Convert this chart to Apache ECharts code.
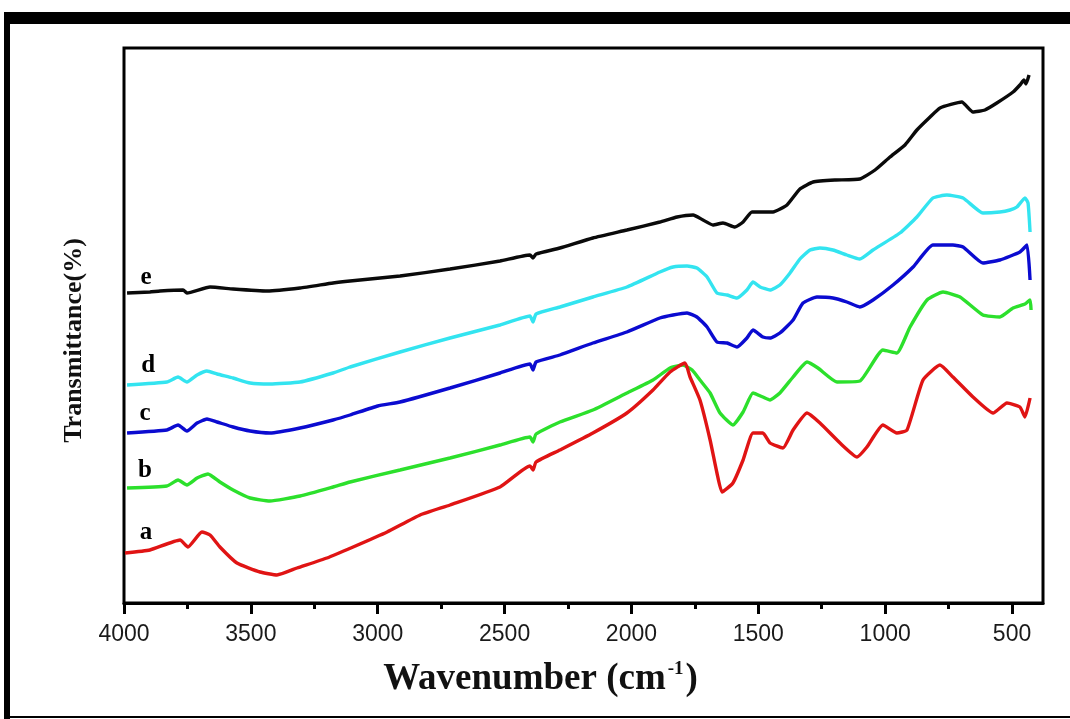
<!DOCTYPE html>
<html>
<head>
<meta charset="utf-8">
<script src="https://cdn.jsdelivr.net/npm/echarts@6/dist/echarts.min.js"></script>
<style>html,body{margin:0;padding:0;background:#fff;}#chart{width:1070px;height:719px;}</style>
</head>
<body>
<div id="chart"></div>
<script>
// ---- tick labels ----
const majorTicks = [4000, 3500, 3000, 2500, 2000, 1500, 1000, 500];
const minorTicks = [3750, 3250, 2750, 2250, 1750, 1250, 750];

// ---- curve labels ----
const curveNames = ['e', 'd', 'c', 'b', 'a'];
const labelW = [3913, 3905, 3917, 3917, 3913];
const labelT = [325, 237, 189, 132, 70];

// ---- series e (black) ----
const eW = [3988,3898,3858,3767,3752,3661,3570,3436,3306,3176,3109,2912,2715,2518,2400,2388,2376,2282,2152,2018,1888,1820,1757,1718,1679,1639,1592,1560,1525,1482,1442,1387,1336,1284,1198,1100,1040,981,922,875,823,784,698,654,607,560,496,469,453,445,433];
const eT = [310,311,312,313,310,316,314,312,315,320,322,327,334,342,348,345,349,355,365,373,381,386,388,383,378,380,376,381,391,391,391,398,414,421,423,424,433,446,458,473,486,495,501,491,493,500,511,518,523,519,528];

// ---- series d (cyan) ----
const dW = [3988,3831,3787,3752,3712,3673,3633,3570,3503,3425,3306,3176,3109,2912,2715,2518,2400,2388,2376,2282,2152,2018,1888,1836,1781,1742,1702,1663,1623,1584,1545,1521,1493,1454,1415,1375,1336,1296,1257,1206,1151,1100,1048,942,875,812,757,693,615,548,508,481,449,437,429];
const dT = [218,221,226,221,228,232,229,225,220,219,221,230,236,251,265,278,287,281,289,296,306,316,331,336,337,335,326,310,308,305,313,321,316,313,318,330,344,353,355,353,348,344,353,370,386,405,408,405,390,391,393,396,405,400,371];

// ---- series c (blue) ----
const cW = [3988,3831,3787,3752,3712,3673,3633,3570,3503,3425,3306,3176,3109,3000,2912,2715,2518,2400,2388,2376,2282,2152,2018,1888,1836,1781,1742,1702,1663,1623,1584,1545,1521,1482,1454,1415,1363,1324,1269,1206,1151,1100,1048,969,890,812,733,693,615,548,469,441,429];
const cT = [170,173,178,172,180,184,181,176,172,170,175,183,188,197,201,215,230,239,233,241,248,260,271,285,288,290,286,276,261,260,256,265,273,266,265,270,283,300,306,305,301,296,303,318,336,358,358,356,340,343,351,358,323];

// ---- series b (green) ----
const bW = [3988,3831,3787,3752,3712,3669,3622,3570,3503,3425,3306,3176,3109,2912,2715,2518,2400,2388,2376,2282,2152,2018,1915,1848,1797,1761,1730,1690,1651,1600,1560,1521,1482,1454,1415,1363,1308,1265,1190,1100,1009,954,902,835,772,705,615,548,496,449,429,425];
const bT = [115,117,123,118,125,129,121,113,105,102,107,116,121,133,145,158,166,161,169,181,193,210,223,235,238,233,223,210,190,178,191,210,206,203,210,226,241,235,221,222,253,250,276,303,311,306,288,286,295,299,303,293];

// ---- series a (red) ----
const aW = [3996,3898,3779,3748,3693,3661,3622,3555,3464,3397,3318,3200,3097,2963,2833,2715,2518,2400,2388,2376,2282,2152,2018,1915,1848,1789,1769,1730,1690,1663,1643,1600,1560,1521,1482,1454,1403,1363,1308,1257,1178,1111,1072,1009,954,914,851,784,733,654,575,520,469,449,429];
const aT = [50,53,63,56,71,68,56,40,31,28,35,45,56,71,88,98,116,137,133,141,153,170,190,213,231,240,226,203,163,130,111,120,143,170,170,160,155,173,190,180,160,146,156,178,170,173,223,238,226,206,190,200,196,186,205];

const pair = (w, t) => w.map((x, i) => [x, t[i]]);
const curves = [
  { name: 'e', w: eW, t: eT, color: '#0a0a0a' },
  { name: 'd', w: dW, t: dT, color: '#33e4f0' },
  { name: 'c', w: cW, t: cT, color: '#0b0bd0' },
  { name: 'b', w: bW, t: bT, color: '#2ce02c' },
  { name: 'a', w: aW, t: aT, color: '#e01414' }
];

const chart = echarts.init(document.getElementById('chart'), null, { renderer: 'canvas' });

const series = curves.map(c => ({
  type: 'line',
  name: c.name,
  data: pair(c.w, c.t),
  showSymbol: false,
  smooth: 0.15,
  lineStyle: { color: c.color, width: 3.4 },
  itemStyle: { color: c.color },
  xAxisIndex: 0,
  silent: true,
  animation: false
}));

series.push({
  type: 'scatter',
  name: 'labels',
  xAxisIndex: 0,
  data: labelW.map((w, i) => [w, labelT[i], curveNames[i]]),
  symbolSize: 0,
  itemStyle: { color: '#000', opacity: 1 },
  label: {
    show: true,
    position: 'inside',
    formatter: p => p.data[2],
    fontFamily: 'Liberation Serif',
    fontWeight: 'bold',
    fontSize: 25,
    color: '#000',
    opacity: 1,
    textBorderWidth: 0
  },
  silent: true,
  animation: false
});

const xCommon = {
  type: 'value',
  inverse: true,
  min: 378,
  max: 4000,
  position: 'bottom',
  splitLine: { show: false }
};

chart.setOption({
  backgroundColor: '#fff',
  animation: false,
  grid: {
    left: 124, right: 27, top: 48, bottom: 116,
    show: true, borderColor: '#000', borderWidth: 3, backgroundColor: '#fff'
  },
  xAxis: [
    Object.assign({}, xCommon, {
      name: '{t|Wavenumber (cm}{s|-1}{t|)}',
      nameLocation: 'middle',
      nameGap: 57,
      nameTextStyle: {
        padding: [0, 86, 0, 0],
        rich: {
          t: { fontFamily: 'Liberation Serif', fontWeight: 'bold', fontSize: 37, color: '#111', lineHeight: 38 },
          s: { fontFamily: 'Liberation Serif', fontWeight: 'bold', fontSize: 19, color: '#111', verticalAlign: 'top', lineHeight: 38, padding: [0, 2, 15, 2] }
        }
      },
      axisLine: { show: true, lineStyle: { color: '#000', width: 3 } },
      axisTick: { show: true, inside: false, length: 11, lineStyle: { color: '#000', width: 3 }, customValues: majorTicks },
      axisLabel: { show: true, margin: 20, customValues: majorTicks, formatter: v => String(v), fontFamily: 'Liberation Sans', fontSize: 23, color: '#1a1a1a' }
    }),
    Object.assign({}, xCommon, {
      axisLine: { show: false },
      axisTick: { show: true, inside: false, length: 6, lineStyle: { color: '#000', width: 3 }, customValues: minorTicks },
      axisLabel: { show: false }
    })
  ],
  yAxis: {
    type: 'value',
    min: 0,
    max: 555,
    name: 'Transmittance(%)',
    nameLocation: 'middle',
    nameGap: 37,
    nameTextStyle: { fontFamily: 'Liberation Serif', fontWeight: 'bold', fontSize: 26, color: '#111', padding: [0, 30, 0, 0] },
    axisLine: { show: false },
    axisTick: { show: false },
    axisLabel: { show: false },
    splitLine: { show: false }
  },
  graphic: [
    { type: 'rect', shape: { x: 4, y: 12, width: 1066, height: 12 }, style: { fill: '#000' }, silent: true },
    { type: 'rect', shape: { x: 4, y: 12, width: 6, height: 707 }, style: { fill: '#000' }, silent: true },
    { type: 'rect', shape: { x: 4, y: 716, width: 1066, height: 2 }, style: { fill: '#000' }, silent: true }
  ],
  series: series
});
</script>
</body>
</html>
